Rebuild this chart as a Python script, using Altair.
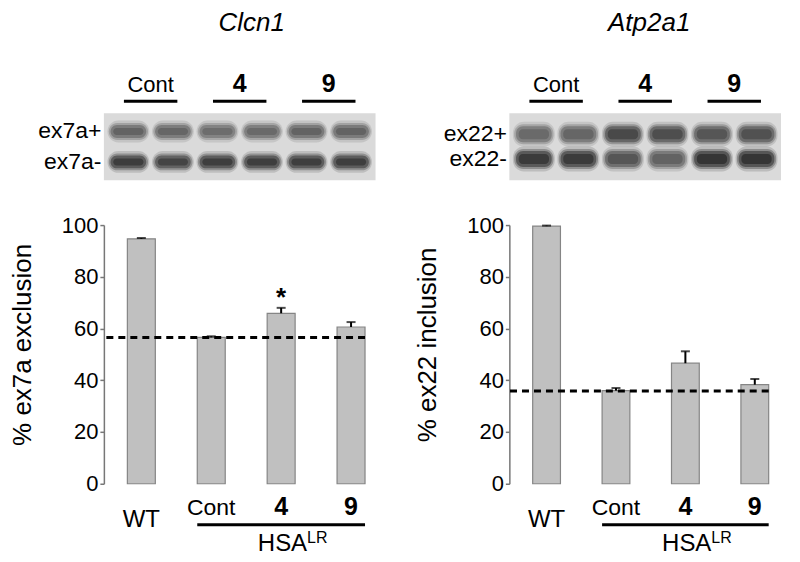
import altair as alt
import pandas as pd

FONT = "Liberation Sans"

# ---------------- data ----------------
groups = ["WT", "Cont", "4", "9"]
group_weight = ["normal", "normal", "bold", "bold"]

clcn1_mean = [94.7, 56.6, 65.9, 60.6]
clcn1_top = [95.0, 57.0, 68.0, 62.5]
clcn1_ref = 56.5
clcn1_star = ["", "", "*", ""]

atp_mean = [99.6, 36.0, 46.6, 38.3]
atp_top = [99.8, 37.0, 51.2, 40.5]
atp_ref = 35.9
atp_star = ["", "", "", ""]

lanes = [1, 2, 3, 4, 5, 6]
lane_groups = ["Cont", "4", "9"]
lane_group_weight = ["normal", "bold", "bold"]

clcn1_rows = ["ex7a+", "ex7a-"]
clcn1_upper = [0.62, 0.60, 0.56, 0.58, 0.62, 0.62]
clcn1_lower = [0.85, 0.80, 0.84, 0.84, 0.84, 0.84]

atp_rows = ["ex22+", "ex22-"]
atp_upper = [0.58, 0.60, 0.78, 0.74, 0.70, 0.72]
atp_lower = [0.86, 0.86, 0.70, 0.62, 0.90, 0.90]

# ---------------- sizes ----------------
GEL_W = 272
HDR_H = 97
GEL_H = 67
BAR_H = 259
PI = 0.6
PO = 0.336


def lane_scale():
    return alt.Scale(domain=[0.45, 6.55], nice=False, zero=False)


def header(title, dx):
    tdf = pd.DataFrame({"t": [title]})
    t = alt.Chart(tdf).mark_text(
        font=FONT, fontSize=26, fontStyle="italic", baseline="alphabetic"
    ).encode(x=alt.value(GEL_W / 2 + dx), y=alt.value(23), text="t:N")
    pairs = [(lanes[2 * i] + lanes[2 * i + 1]) / 2 for i in range(3)]
    gdf = pd.DataFrame({"g": lane_groups, "c": pairs, "w": lane_group_weight})
    base = alt.Chart(gdf).encode(x=alt.X("c:Q", scale=lane_scale(), axis=None))
    lab_n = base.transform_filter("datum.w == 'normal'").mark_text(
        font=FONT, fontSize=22, baseline="alphabetic"
    ).encode(y=alt.value(84), text="g:N")
    lab_b = base.transform_filter("datum.w == 'bold'").mark_text(
        font=FONT, fontSize=25, fontWeight="bold", baseline="alphabetic"
    ).encode(y=alt.value(84), text="g:N")
    line = alt.Chart(gdf).transform_calculate(
        x0="datum.c - 0.6", x1="datum.c + 0.6"
    ).mark_rule(strokeWidth=3, color="black").encode(
        x=alt.X("x0:Q", scale=lane_scale(), axis=None), x2="x1:Q", y=alt.value(93)
    )
    return alt.layer(lab_n, lab_b, line, t).properties(width=GEL_W, height=HDR_H)


def gel(rows, upper, lower, row_pad, band_h):
    df = pd.DataFrame({
        "lane": lanes * 2,
        "row": [rows[0]] * len(lanes) + [rows[1]] * len(lanes),
        "v": upper + lower,
    })
    ys = alt.Scale(domain=rows, paddingInner=0, paddingOuter=row_pad)
    cs = alt.Scale(domain=[0, 1], range=["#dadada", "#0d0d0d"])

    def layer(half, extra, op, rad):
        yax = alt.Axis(title=None, domain=False, ticks=False, labelFont=FONT,
                       labelFontSize=23, labelColor="black", labelPadding=3)
        return alt.Chart(df).transform_calculate(
            x0=f"datum.lane - {half}", x1=f"datum.lane + {half}"
        ).mark_bar(size=band_h + extra, opacity=op, cornerRadius=rad).encode(
            x=alt.X("x0:Q", scale=lane_scale(), axis=None),
            x2="x1:Q",
            y=alt.Y("row:N", scale=ys, axis=yax),
            color=alt.Color("v:Q", scale=cs, legend=None),
        )

    return alt.layer(
        layer(0.47, 10, 0.16, 11),
        layer(0.44, 5, 0.3, 9),
        layer(0.40, 1, 0.5, 7),
        layer(0.34, -5, 0.6, 4),
    ).properties(width=GEL_W, height=GEL_H,
                 view=alt.ViewBackground(fill="#dadada"))


def bars(ytitle, mean, top, ref, star, width):
    df = pd.DataFrame({"grp": groups, "mean": mean, "top": top,
                       "w": group_weight, "star": star})
    xb = alt.Scale(domain=groups, paddingInner=PI, paddingOuter=PO)
    ys = alt.Scale(domain=[0, 100], nice=False, zero=True)
    base = alt.Chart(df).encode(
        x=alt.X("grp:N", scale=xb, axis=alt.Axis(
            title=None, labels=False, ticks=False, domainColor="#777",
            domainWidth=1.5))
    )
    b = base.mark_bar(color="#c0c0c0", stroke="#858585", strokeWidth=1.2).encode(
        y=alt.Y("mean:Q", scale=ys, axis=alt.Axis(
            values=[0, 20, 40, 60, 80, 100], title=ytitle, grid=False,
            domainColor="#777", domainWidth=1.5, tickColor="#777",
            tickWidth=1.5, tickSize=4, labelFont=FONT, labelFontSize=22,
            labelColor="black", labelPadding=2, titleFont=FONT,
            titleFontSize=26, titleFontWeight="normal", titleColor="black",
            titlePadding=26, titleY=BAR_H / 2 - 10))
    )
    e = base.mark_rule(color="black", strokeWidth=2).encode(y="mean:Q", y2="top:Q")
    cap = base.mark_tick(color="black", thickness=2, size=9).encode(y="top:Q")
    s = base.transform_filter("datum.star != ''").mark_text(
        font=FONT, fontSize=26, fontWeight="bold", baseline="middle", dy=-10
    ).encode(y="top:Q", text="star:N")
    # dashed reference line: from the y axis to the end of the last band
    rdf = pd.DataFrame({"ref": [ref], "end": [groups[-1]]})
    r = alt.Chart(rdf).mark_rule(color="black", strokeWidth=3, strokeDash=[7, 5]).encode(
        y="ref:Q",
        x=alt.X("end:N", bandPosition=1, axis=None),
        x2=alt.value(0),
    )
    lab_wt = base.transform_filter("datum.grp == 'WT'").mark_text(
        font=FONT, fontSize=24, baseline="alphabetic"
    ).encode(y=alt.value(BAR_H + 43), text="grp:N")
    lab_n = base.transform_filter("datum.grp != 'WT' && datum.w == 'normal'").mark_text(
        font=FONT, fontSize=23, baseline="alphabetic"
    ).encode(y=alt.value(BAR_H + 31), text="grp:N")
    lab_b = base.transform_filter("datum.w == 'bold'").mark_text(
        font=FONT, fontSize=25, fontWeight="bold", baseline="alphabetic"
    ).encode(y=alt.value(BAR_H + 31), text="grp:N")
    hdf = pd.DataFrame({"s": ["Cont"], "e": ["9"], "g": ["4"],
                        "t": ["HSA"], "sup": ["LR"]})
    hl = alt.Chart(hdf).mark_rule(color="black", strokeWidth=3).encode(
        x=alt.X("s:N", bandPosition=0, axis=None),
        x2=alt.X2("e:N", bandPosition=1),
        y=alt.value(BAR_H + 41),
    )
    ht = alt.Chart(hdf).mark_text(
        font=FONT, fontSize=24, align="right", baseline="alphabetic", dx=26
    ).encode(x=alt.X("g:N", axis=None), y=alt.value(BAR_H + 67), text="t:N")
    hs = alt.Chart(hdf).mark_text(
        font=FONT, fontSize=16, align="left", baseline="alphabetic", dx=26
    ).encode(x=alt.X("g:N", axis=None), y=alt.value(BAR_H + 59), text="sup:N")
    return alt.layer(b, e, cap, s, r, lab_wt, lab_n, lab_b, hl, ht, hs).properties(
        width=width, height=BAR_H
    )


def column(title, dx, rows, upper, lower, row_pad, band_h, ytitle, mean, top,
           ref, star, width):
    topc = alt.vconcat(header(title, dx), gel(rows, upper, lower, row_pad, band_h),
                       spacing=8)
    return alt.vconcat(topc, bars(ytitle, mean, top, ref, star, width), spacing=34)


col1 = column("Clcn1", 12, clcn1_rows, clcn1_upper, clcn1_lower, 0.1, 12,
              "% ex7a exclusion", clcn1_mean, clcn1_top, clcn1_ref, clcn1_star, 285)
col2 = column("Atp2a1", 4, atp_rows, atp_upper, atp_lower, 0.357, 15,
              "% ex22 inclusion", atp_mean, atp_top, atp_ref, atp_star, 283)

chart = alt.hconcat(col1, col2, spacing=26).properties(
    padding={"left": 1, "top": 0, "right": 0, "bottom": 0}
).configure(font=FONT).configure_view(stroke=None)

chart.save("out.html", embed_options={"renderer": "svg", "actions": False})
